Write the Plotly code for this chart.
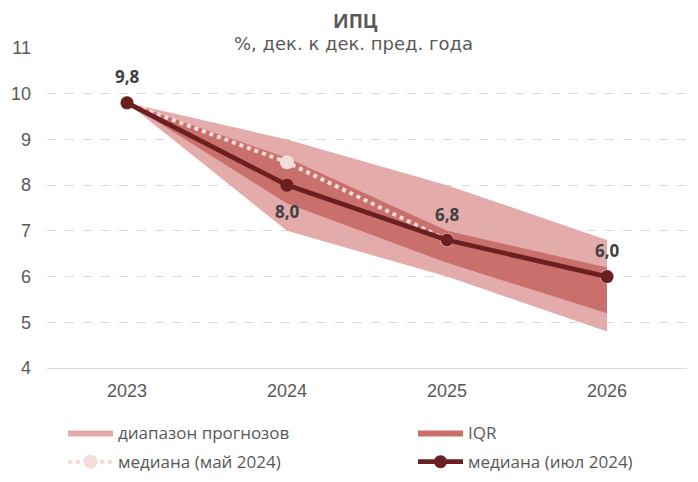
import plotly.graph_objects as go

years = ["2023", "2024", "2025", "2026"]
x_idx = [0, 1, 2, 3]
range_hi = [9.8, 9.0, 8.0, 6.8]
range_lo = [9.8, 7.0, 6.0, 4.8]
iqr_hi = [9.8, 8.6, 7.0, 6.2]
iqr_lo = [9.8, 7.6, 6.3, 5.2]
med_may = [9.8, 8.5, 6.8, 6.0]
med_jul = [9.8, 8.0, 6.8, 6.0]
label_dir = [1, -1, 1, 1]
y_ticks = [4, 5, 6, 7, 8, 9, 10, 11]

FONT = "Open Sans"
TICKFONT = "Liberation Sans"
GRAY = "#595959"
C_RANGE = "#E3ACAB"
C_IQR = "#C9706C"
C_MAY = "#F3DCDA"
C_JUL = "#6B1F20"

# page has an 8px body offset
OFF = 8
W, H = 690, 474
ML, MR, MT, MB = 39, 11, 40, 114
PW, PH = W - ML - MR, H - MT - MB


def px_x(px):
    return (px - OFF - ML) / PW


def px_y(py):
    return (H - MB - (py - OFF)) / PH


fig = go.Figure()
fig.add_trace(go.Scatter(
    x=x_idx + x_idx[::-1], y=range_hi + range_lo[::-1],
    fill="toself", fillcolor=C_RANGE, line=dict(width=0), mode="lines",
    name="диапазон прогнозов", hoverinfo="skip", legend="legend", legendgroup="a"))
fig.add_trace(go.Scatter(
    x=x_idx + x_idx[::-1], y=iqr_hi + iqr_lo[::-1],
    fill="toself", fillcolor=C_IQR, line=dict(width=0), mode="lines",
    name="IQR", hoverinfo="skip", legend="legend2", legendgroup="b"))
fig.add_trace(go.Scatter(
    x=x_idx, y=med_may, mode="lines+markers", name="медиана (май 2024)",
    line=dict(color=C_MAY, width=4, dash="dot"),
    marker=dict(color=C_MAY, size=14), legend="legend", legendgroup="c"))
fig.add_trace(go.Scatter(
    x=x_idx, y=med_jul, mode="lines+markers", name="медиана (июл 2024)",
    line=dict(color=C_JUL, width=4.8),
    marker=dict(color=C_JUL, size=13), legend="legend2", legendgroup="d"))

annots = [
    dict(text="<b>ИПЦ</b>", x=px_x(355), y=px_y(21), xref="paper", yref="paper",
         xanchor="center", yanchor="middle", showarrow=False,
         font=dict(family=FONT, size=19, color=GRAY)),
    dict(text="%, дек. к дек. пред. года", x=px_x(353), y=px_y(43), xref="paper",
         yref="paper", xanchor="center", yanchor="middle", showarrow=False,
         font=dict(family="DejaVu Sans", size=18, color=GRAY)),
]
for xi, v, d in zip(x_idx, med_jul, label_dir):
    annots.append(dict(x=xi, y=v, xref="x", yref="y",
                       text="<b>" + f"{v:.1f}".replace(".", ",") + "</b>",
                       showarrow=False, yshift=26 * d,
                       font=dict(family=FONT, size=17, color="#404040")))

leg_common = dict(orientation="v", yref="container", xref="container", yanchor="top",
                  xanchor="left", y=1 - 407 / H, itemwidth=45, tracegroupgap=4,
                  bgcolor="rgba(0,0,0,0)", font=dict(family=FONT, size=17, color=GRAY))
fig.update_layout(
    width=W, height=H,
    margin=dict(l=ML, r=MR, t=MT, b=MB, autoexpand=False),
    paper_bgcolor="white", plot_bgcolor="white",
    font=dict(family=FONT, color=GRAY, size=17),
    showlegend=True,
    legend=dict(x=55 / W, **leg_common),
    legend2=dict(x=405 / W, **leg_common),
    annotations=annots,
)
fig.update_xaxes(range=[-0.5, 3.5], tickvals=x_idx, ticktext=years, showgrid=False,
                 showline=True, linecolor="#D9D9D9", linewidth=1, ticks="", zeroline=False,
                 tickfont=dict(family=TICKFONT, size=18, color=GRAY), ticklabelstandoff=6)
fig.update_yaxes(range=[4, 11], tickvals=y_ticks, showgrid=True, gridcolor="#D9D9D9",
                 griddash="dash", gridwidth=1, zeroline=False, showline=False,
                 tickfont=dict(family=TICKFONT, size=18, color=GRAY), ticklabelstandoff=15)

fig.write_html("out.html")
